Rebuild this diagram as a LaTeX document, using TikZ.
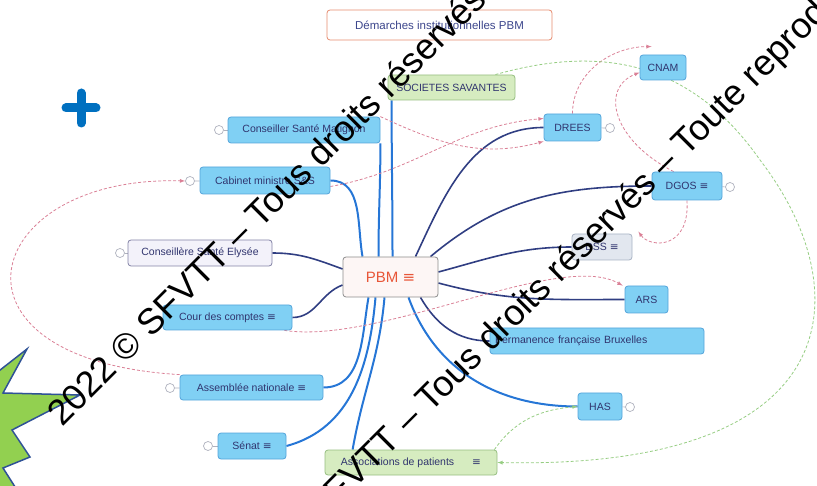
\documentclass[tikz,border=0pt]{standalone}
\usepackage{fontspec}
\setmainfont{Liberation Sans}
\newfontfamily\symfont{DejaVu Sans}
\usepackage{tikz}
\usetikzlibrary{shapes,arrows,positioning,backgrounds}
\definecolor{topicfill}{RGB}{128,208,244}
\definecolor{topicdraw}{RGB}{84,164,218}
\definecolor{topictext}{RGB}{48,52,110}
\definecolor{greenfill}{RGB}{214,236,192}
\definecolor{greendraw}{RGB}{150,190,128}
\definecolor{lilacfill}{RGB}{243,242,250}
\definecolor{lilacdraw}{RGB}{130,130,165}
\definecolor{greyfill}{RGB}{226,231,239}
\definecolor{greydraw}{RGB}{168,178,196}
\definecolor{rootfill}{RGB}{253,246,245}
\definecolor{rootdraw}{RGB}{140,140,140}
\definecolor{roottext}{RGB}{232,86,56}
\definecolor{titledraw}{RGB}{230,140,110}
\definecolor{titletext}{RGB}{60,70,140}
\definecolor{branchblue}{RGB}{38,118,214}
\definecolor{branchnavy}{RGB}{48,62,130}
\definecolor{relpink}{RGB}{218,128,150}
\definecolor{relgreen}{RGB}{150,205,130}
\definecolor{markgrey}{RGB}{175,178,190}
\definecolor{plusblue}{RGB}{0,112,192}
\definecolor{burstgreen}{RGB}{146,208,80}
\definecolor{burstblue}{RGB}{47,82,150}
\tikzstyle{topic} = [rectangle, rounded corners=3pt, draw=topicdraw, fill=topicfill, text=topictext, font=\fontsize{10.5}{12}\selectfont, minimum height=26pt, inner sep=2pt, line width=0.8pt]
\tikzstyle{gtopic} = [topic, draw=greendraw, fill=greenfill]
\tikzstyle{root} = [topic, draw=rootdraw, fill=rootfill, text=roottext, font=\fontsize{15}{17}\selectfont]
\tikzstyle{knob} = [circle, draw=markgrey, fill=white, inner sep=0pt, minimum size=9pt, line width=0.7pt]
\tikzstyle{line} = [draw=markgrey, line width=0.7pt]
\tikzstyle{branch} = [draw=branchblue, line width=2pt]
\tikzstyle{nbranch} = [draw=branchnavy, line width=1.6pt]
\tikzstyle{rel} = [draw=relpink, dash pattern=on 3pt off 2pt, line width=0.8pt, -latex]
\tikzstyle{grel} = [rel, draw=relgreen]
\tikzstyle{wmark} = [rotate=45, anchor=base west, inner sep=0pt, font=\fontsize{36}{40}\selectfont]
\newcommand{\noteicon}{{\symfont ≡}}

\begin{document}
\begin{tikzpicture}[x=1pt, y=-1pt]
	\useasboundingbox (0,0) rectangle (817,486);
	\node [topic, fill=white, draw=titledraw, text=titletext, minimum width=225, minimum height=30, font=\fontsize{11.5}{13}\selectfont] (title) at (439.5,25) {Démarches institutionnelles PBM};
	\node [root, minimum width=95, minimum height=40] (pbm) at (390.5,277) {PBM \noteicon};
	\node [gtopic, minimum width=127, minimum height=25] (socs) at (451.5,87.5) {SOCIETES SAVANTES};
	\node [topic, minimum width=152] (matignon) at (304,130) {Conseiller Santé Matignon};
	\node [topic, minimum width=130, minimum height=27] (cabinet) at (265,180.5) {Cabinet ministre S\&S};
	\node [topic, fill=lilacfill, draw=lilacdraw, minimum width=144] (elysee) at (200,253) {Conseillère Santé Elysée};
	\node [topic, minimum width=129, minimum height=25] (cour) at (227.5,317.5) {Cour des comptes \noteicon};
	\node [topic, minimum width=143, minimum height=25] (assemblee) at (251.5,387.5) {Assemblée nationale \noteicon};
	\node [topic, minimum width=68] (senat) at (252,446) {Sénat \noteicon};
	\node [gtopic, minimum width=172, minimum height=25] (assoc) at (411,462.5) {Associations de patients\hspace{18pt}\noteicon};
	\node [topic, minimum width=57, minimum height=27] (drees) at (572.5,127.5) {DREES};
	\node [topic, minimum width=46, minimum height=25] (cnam) at (663,67.5) {CNAM};
	\node [topic, minimum width=70, minimum height=28] (dgos) at (687,186) {DGOS \noteicon};
	\node [topic, fill=greyfill, draw=greydraw, minimum width=60] (dss) at (602,247) {DSS \noteicon};
	\node [topic, minimum width=43, minimum height=27] (ars) at (646.5,299.5) {ARS};
	\node [topic, minimum width=214, text width=204pt, align=left] (perm) at (597,341) {Permanence française Bruxelles};
	\node [topic, minimum width=44, minimum height=27] (has) at (600,406.5) {HAS};

	\node [knob] (matknob) at (219,130) {};
	\node [knob] (cabknob) at (190,181) {};
	\node [knob] (elyknob) at (120,253) {};
	\node [knob] (assknob) at (170,388) {};
	\node [knob] (senknob) at (208,446) {};
	\node [knob] (dreknob) at (610,128) {};
	\node [knob] (dgoknob) at (730,187) {};
	\node [knob] (hasknob) at (630,407) {};

	\begin{scope}[on background layer]
		\path [line] (matknob) -- (matignon);
		\path [line] (cabknob) -- (cabinet);
		\path [line] (elyknob) -- (elysee);
		\path [line] (assknob) -- (assemblee);
		\path [line] (senknob) -- (senat);
		\path [line] (dreknob) -- (drees);
		\path [line] (dgoknob) -- (dgos);
		\path [line] (hasknob) -- (has);

		\path [branch] ([xshift=2pt]pbm.north) to[out=90, in=-90] ([xshift=4pt]socs.south west);
		\path [branch] ([xshift=-12pt]pbm.north) to[out=90, in=-90] (matignon.south east);
		\path [branch] ([xshift=-28pt]pbm.north) to[out=100, in=0] (cabinet.east);
		\path [nbranch] ([yshift=8pt]pbm.west) to[out=160, in=0] (elysee.east);
		\path [nbranch] ([yshift=-8pt]pbm.west) to[out=200, in=0] (cour.east);
		\path [branch] ([xshift=-22pt]pbm.south) to[out=-100, in=0] (assemblee.east);
		\path [branch] ([xshift=-15pt]pbm.south) to[out=-95, in=15] (senat.east);
		\path [branch] ([xshift=-6pt]pbm.south) to[out=-95, in=80] ([xshift=28pt]assoc.north west);
		\path [nbranch] ([xshift=25pt]pbm.north) to[out=65, in=180] (drees.west);
		\path [nbranch] ([xshift=40pt]pbm.north) to[out=40, in=180] (dgos.west);
		\path [nbranch] ([yshift=5pt]pbm.east) to[out=15, in=180] (dss.west);
		\path [nbranch] ([yshift=-6pt]pbm.east) to[out=-15, in=180] (ars.west);
		\path [nbranch] ([xshift=30pt]pbm.south) to[out=-60, in=180] (perm.west);
		\path [branch] ([xshift=18pt]pbm.south) to[out=-70, in=180] (has.west);

		\path [rel] (matignon.north east) to[out=-25, in=195] (drees.south west);
		\path [rel] ([yshift=-6pt]cabinet.east) to[out=10, in=185] ([yshift=9pt]drees.west);
		\path [rel] (drees.north) to[out=90, in=180] ([xshift=12pt, yshift=8pt]cnam.north west);
		\path [rel] ([xshift=22pt]dgos.north west) .. controls (612,140) and (600,88) .. ([yshift=-5pt]cnam.west);
		\path [rel] (dgos.south) .. controls (690,250) and (650,248) .. ([xshift=6pt, yshift=2pt]dss.north east);
		\path [rel] ([xshift=-8pt]cour.south east) .. controls (380,345) and (560,250) .. ([xshift=-2pt]ars.north west);
		\path [rel] (assemblee.north west) .. controls (-70,360) and (-20,175) .. (cabknob.west);
		\path [grel] ([xshift=-20pt]socs.north east) .. controls (600,45) and (690,60) .. (760,160) .. controls (860,290) and (850,470) .. (assoc.east);
		\path [grel] ([xshift=-3pt]assoc.north east) to[out=55, in=185] (has.west);
	\end{scope}

	\draw [plusblue, line width=9pt, line cap=round] (66,108) -- (96,108);
	\draw [plusblue, line width=9pt, line cap=round] (81,93) -- (81,123);

	\begin{scope}
		\clip (0,0) rectangle (817,486);
		\filldraw [fill=burstgreen, draw=burstblue, line width=1.5pt] (-5,374) -- (27,349) -- (3,393) -- (80,395) -- (12,430) -- (30,457) -- (3,468) -- (17,490) -- (-5,490) -- cycle;
		\node [wmark] (wmone) at (62,428) {2022 © SFVTT – Tous droits réservés – Toute reproduction interdite};
		\node [wmark] (wmtwo) at (232,612) {2022 © SFVTT – Tous droits réservés – Toute reproduction interdite};
	\end{scope}
\end{tikzpicture}
\end{document}
